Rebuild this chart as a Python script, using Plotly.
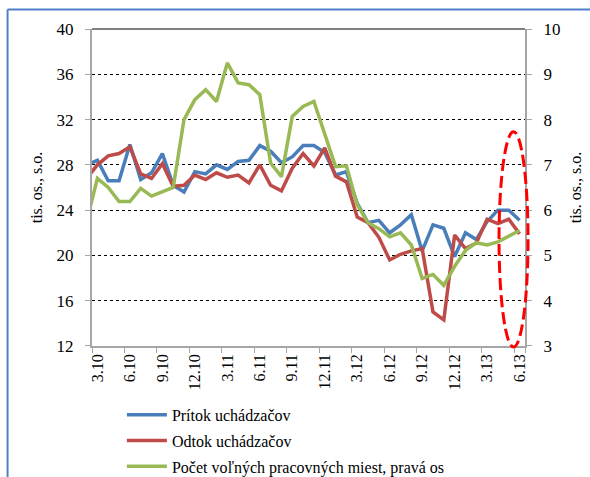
import plotly.graph_objects as go

months = ["2.10", "3.10", "4.10", "5.10", "6.10", "7.10", "8.10", "9.10", "10.10", "11.10", "12.10",
          "1.11", "2.11", "3.11", "4.11", "5.11", "6.11", "7.11", "8.11", "9.11", "10.11", "11.11", "12.11",
          "1.12", "2.12", "3.12", "4.12", "5.12", "6.12", "7.12", "8.12", "9.12", "10.12", "11.12", "12.12",
          "1.13", "2.13", "3.13", "4.13", "5.13", "6.13"]

tick_labels = ["3.10", "6.10", "9.10", "12.10", "3.11", "6.11", "9.11", "12.11",
               "3.12", "6.12", "9.12", "12.12", "3.13", "6.13"]

pritok = [28.0, 28.4, 26.6, 26.6, 29.8, 26.7, 27.3, 29.0, 26.2, 25.6, 27.4,
          27.2, 28.0, 27.6, 28.3, 28.4, 29.7, 29.2, 28.2, 28.7, 29.7, 29.7, 29.1,
          27.1, 27.4, 24.6, 22.9, 23.1, 22.0, 22.7, 23.6, 20.4, 22.7, 22.4, 19.9,
          22.0, 21.4, 23.0, 24.0, 24.0, 23.1]

odtok = [26.8, 28.0, 28.8, 29.0, 29.6, 27.2, 26.8, 28.1, 26.1, 26.2, 27.1,
         26.7, 27.3, 26.9, 27.1, 26.4, 28.0, 26.2, 25.7, 27.7, 29.0, 27.9, 29.5,
         27.0, 26.5, 23.4, 22.9, 21.6, 19.6, 20.1, 20.4, 20.6, 15.0, 14.3, 21.8,
         20.6, 21.1, 23.2, 22.8, 23.2, 21.9]

volne_miesta = [5.75, 6.70, 6.50, 6.19, 6.19, 6.48, 6.31, 6.41, 6.50, 8.00, 8.44,
                8.66, 8.40, 9.25, 8.81, 8.77, 8.55, 7.04, 6.74, 8.07, 8.29, 8.40, 7.65,
                6.96, 6.98, 6.12, 5.72, 5.59, 5.41, 5.50, 5.23, 4.49, 4.58, 4.34, 4.76,
                5.11, 5.28, 5.23, 5.30, 5.43, 5.55]

series_names = ["Prítok uchádzačov", "Odtok uchádzačov", "Počet voľných pracovných miest, pravá os"]

FONT = "Liberation Serif, serif"
BLUE = "#4A7EBB"
RED = "#BE4B48"
GREEN = "#98B954"

fig = go.Figure()
fig.add_trace(go.Scatter(x=months, y=pritok, name=series_names[0], mode="lines",
                         line=dict(color=BLUE, width=3.5), legendgroup="a"))
fig.add_trace(go.Scatter(x=months, y=odtok, name=series_names[1], mode="lines",
                         line=dict(color=RED, width=3.5), legendgroup="b"))
fig.add_trace(go.Scatter(x=months, y=volne_miesta, name=series_names[2], mode="lines",
                         line=dict(color=GREEN, width=3.5), legendgroup="c", yaxis="y2"))

# figure is a little taller than the 477 px window (the bottom is cut, as in the source image);
# plot area: x 92..525 px, y 29..346 px; paper spans y 29..490
fig.update_layout(
    width=590, height=490, autosize=False,
    margin=dict(l=92, r=65, t=29, b=0),
    paper_bgcolor="white", plot_bgcolor="white",
    font=dict(family=FONT, size=15, color="black"),
    showlegend=True,
    legend=dict(x=0.069, y=0.2, xanchor="left", yanchor="top",
                font=dict(family=FONT, size=16, color="black"),
                bgcolor="rgba(0,0,0,0)", tracegroupgap=2, itemwidth=40),
    xaxis=dict(type="category", range=[0.5, 40.5], tickmode="array",
               tickvals=tick_labels, ticktext=tick_labels, tickangle=-90,
               tickson="boundaries", ticks="outside", ticklen=5, tickcolor="#A6A6A6",
               showgrid=False, showline=True, linecolor="#A6A6A6", linewidth=1.5,
               tickfont=dict(family=FONT, size=16), zeroline=False, automargin=False),
    yaxis=dict(domain=[0.3124, 1], range=[12, 40], tick0=12, dtick=4, ticks="outside", ticklen=5,
               tickcolor="#A6A6A6", showline=True, linecolor="#A6A6A6", linewidth=2,
               showgrid=True, gridcolor="black", gridwidth=0.8, griddash="dot",
               zeroline=False, ticklabelstandoff=8, automargin=False,
               title=dict(text="tis. os., s.o.", font=dict(family=FONT, size=16), standoff=10),
               tickfont=dict(family=FONT, size=17)),
    yaxis2=dict(range=[3, 10], tick0=3, dtick=1, overlaying="y", side="right",
                ticks="outside", ticklen=5, tickcolor="#A6A6A6", showline=True,
                linecolor="#A6A6A6", linewidth=2, showgrid=False, zeroline=False,
                ticklabelstandoff=8, automargin=False,
                title=dict(text="tis. os., s.o.", font=dict(family=FONT, size=16), standoff=10),
                tickfont=dict(family=FONT, size=17)),
)

# top border of the plot area
fig.add_shape(type="line", xref="paper", yref="paper", x0=0, x1=1, y0=1, y1=1,
              line=dict(color="black", width=1))
# dashed red ellipse highlighting the latest months
fig.add_shape(type="circle", xref="paper", yref="paper", x0=0.94, x1=1.007, y0=0.3102, y1=0.7772,
              line=dict(color="#FF0000", width=3, dash="12px,5px"))
# blue frame of the surrounding box
fig.add_shape(type="line", xref="paper", yref="paper", x0=-0.195, x1=1.2, y0=1.0423, y1=1.0423,
              line=dict(color="#4F7FC8", width=2))
fig.add_shape(type="line", xref="paper", yref="paper", x0=-0.195, x1=-0.195, y0=1.0423, y1=0,
              line=dict(color="#4F7FC8", width=2))

fig.write_html("out.html", config={"displayModeBar": False},
               post_script="document.body.style.margin='0';document.body.style.overflow='hidden';"
                           "document.documentElement.style.overflow='hidden';")
